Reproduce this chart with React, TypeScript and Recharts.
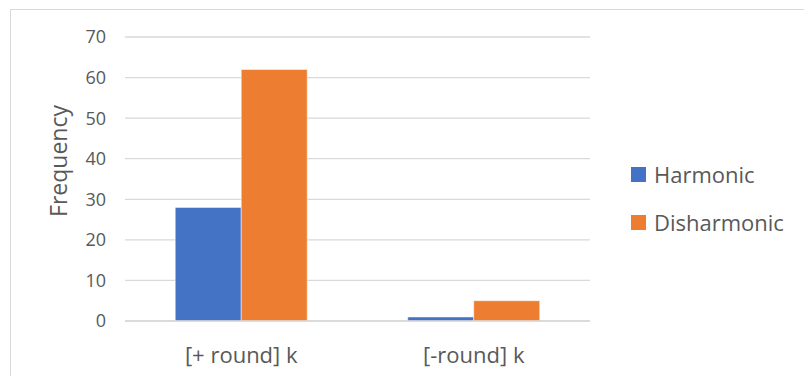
import React from "react";
import { BarChart, Bar, XAxis, YAxis, CartesianGrid } from "recharts";

const categories = ["[+ round] k", "[-round] k"];
const harmonic = [28, 1];
const disharmonic = [62, 5];
const yTicks = [0, 10, 20, 30, 40, 50, 60, 70];
const seriesNames = ["Harmonic", "Disharmonic"];
const yTitle = "Frequency";
const colors = ["#4472C4", "#ED7D31"];

const data = categories.map((c, i) => ({ name: c, Harmonic: harmonic[i], Disharmonic: disharmonic[i] }));

const FONT = "'Open Sans', 'Noto Sans', sans-serif";

const YTitle = () => (
  <text
    x={58}
    y={161}
    transform="rotate(-90 58 161)"
    textAnchor="middle"
    dominantBaseline="central"
    fill="#595959"
    fontSize={23}
    fontFamily={FONT}
  >
    {yTitle}
  </text>
);

export default function App() {
  return (
    <div style={{ position: "absolute", left: 0, top: 0, width: 804, height: 383, background: "#fff" }}>
      <div style={{ position: "absolute", left: 10, top: 9, width: 800, height: 366, borderLeft: "1px solid #d9d9d9", borderTop: "1px solid #d9d9d9" }} />
      <BarChart
        width={804}
        height={383}
        data={data}
        margin={{ top: 37, right: 214, bottom: 32, left: 0 }}
        barCategoryGap="21.6%"
        barGap={0}
        style={{ position: "absolute", left: 0, top: 0 }}
      >
        <CartesianGrid vertical={false} stroke="#d9d9d9" strokeWidth={1.3} />
        <XAxis
          dataKey="name"
          tickLine={false}
          axisLine={{ stroke: "#d9d9d9", strokeWidth: 1.3 }}
          tick={{ fill: "#595959", fontSize: 22, fontFamily: FONT }}
          tickMargin={20}
        />
        <YAxis
          width={125}
          domain={[0, 70]}
          ticks={yTicks}
          tickLine={false}
          axisLine={false}
          tickSize={0}
          tickMargin={19}
          tick={{ fill: "#595959", fontSize: 18, fontFamily: FONT }}
          label={{ value: yTitle, content: YTitle }}
        />
        <Bar dataKey="Harmonic" fill={colors[0]} isAnimationActive={false} stroke="#fff" strokeWidth={0.5} />
        <Bar dataKey="Disharmonic" fill={colors[1]} isAnimationActive={false} stroke="#fff" strokeWidth={0.5} />
      </BarChart>
      {seriesNames.map((n, i) => (
        <div key={n} style={{ position: "absolute", left: 631, top: 159 + i * 48, height: 30, display: "flex", alignItems: "center", fontFamily: FONT, color: "#595959", fontSize: 22 }}>
          <div style={{ width: 15, height: 15, background: colors[i], marginRight: 8 }} />
          <span>{n}</span>
        </div>
      ))}
    </div>
  );
}
